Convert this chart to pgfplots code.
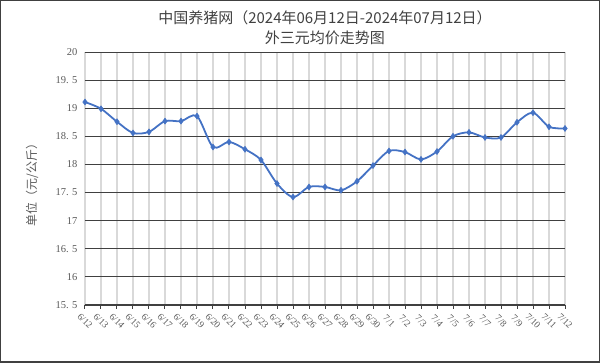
\documentclass[border=0pt]{standalone}
\usepackage{fontspec}
\setmainfont{Liberation Serif}
\newfontfamily\cjk{Noto Sans CJK SC}
\usepackage{pgfplots}
\pgfplotsset{compat=1.18}
\definecolor{lineblue}{RGB}{68,114,196}
\definecolor{txtgray}{RGB}{89,89,89}
\definecolor{titlegray}{RGB}{64,64,64}
\definecolor{griddark}{RGB}{64,64,64}
\definecolor{gridlight}{RGB}{217,217,217}
\begin{document}
\begin{tikzpicture}
\begin{axis}[name=ax, scale only axis, width=480pt, height=253pt,
  xmin=0, xmax=30, ymin=15.5, ymax=20,
  xtick={0,...,30},
  xticklabels={6/12,6/13,6/14,6/15,6/16,6/17,6/18,6/19,6/20,6/21,6/22,6/23,6/24,6/25,6/26,6/27,6/28,6/29,6/30,7/1,7/2,7/3,7/4,7/5,7/6,7/7,7/8,7/9,7/10,7/11,7/12},
  ytick={15.5,16,16.5,17,17.5,18,18.5,19,19.5,20},
  yticklabels={15. 5,16,16. 5,17,17. 5,18,18. 5,19,19. 5,20},
  axis x line*=bottom, axis y line*=left,
  x axis line style={griddark, line width=1pt, -},
  y axis line style={draw=none},
  xtick align=outside, major tick length=4pt,
  xtick style={griddark, line width=1pt},
  ytick style={draw=none},
  xmajorgrids, ymajorgrids,
  x grid style={gridlight, line width=1.2pt},
  y grid style={griddark, line width=0.9pt},
  xticklabel style={font=\fontsize{9.5}{10}\selectfont, text=txtgray, anchor=center, yshift=-12pt, rotate=-45, inner sep=0pt},
  yticklabel style={font=\fontsize{10.5}{12}\selectfont, text=txtgray, xshift=-4pt},
  clip=false,
]
\addplot[lineblue, line width=1.8pt, smooth, mark=diamond*, mark size=3pt, mark options={fill=lineblue, draw=lineblue, line width=0.5pt}] coordinates {
(0,19.11) (1,18.99) (2,18.76) (3,18.56) (4,18.58) (5,18.77) (6,18.77) (7,18.86)
(8,18.31) (9,18.40) (10,18.27) (11,18.08) (12,17.66) (13,17.42) (14,17.60) (15,17.60)
(16,17.54) (17,17.70) (18,17.98) (19,18.24) (20,18.22) (21,18.09) (22,18.23) (23,18.50)
(24,18.57) (25,18.48) (26,18.48) (27,18.75) (28,18.92) (29,18.67) (30,18.64)};
\end{axis}
\node[font=\cjk\fontsize{15}{17}\selectfont, text=titlegray] at ([yshift=34pt]ax.north) {中国养猪网（2024年06月12日-2024年07月12日）};
\node[font=\cjk\fontsize{15}{17}\selectfont, text=titlegray] at ([yshift=14pt]ax.north) {外三元均价走势图};
\node[rotate=90, font=\cjk\fontsize{12}{14}\selectfont, text=txtgray] at ([xshift=-53pt, yshift=-3.5pt]ax.west) {单位（元/公斤）};
\draw[griddark, line width=1.5pt] ([shift={(-84.25pt,-57.25pt)}]ax.south west) rectangle ([shift={(34.25pt,51.25pt)}]ax.north east);
\pgfresetboundingbox
\path ([shift={(-85pt,-58pt)}]ax.south west) rectangle ([shift={(35pt,52pt)}]ax.north east);
\end{tikzpicture}
\end{document}
